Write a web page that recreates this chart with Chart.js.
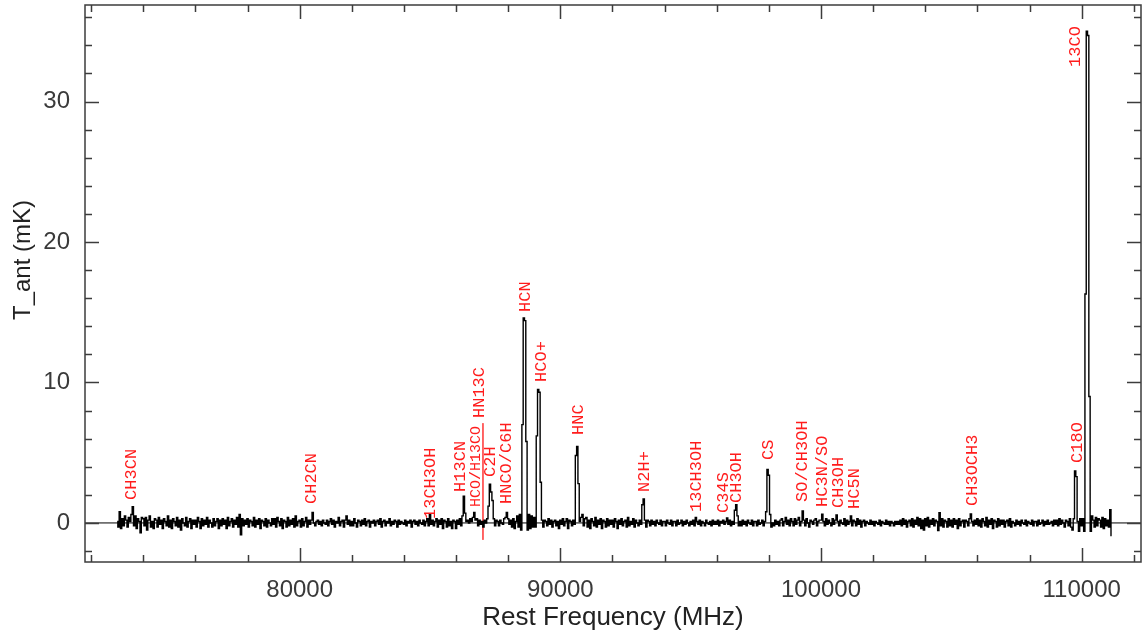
<!DOCTYPE html>
<html>
<head>
<meta charset="utf-8">
<script src="https://cdn.jsdelivr.net/npm/chart.js@4.4.1/dist/chart.umd.min.js"></script>
<style>
  html, body { margin: 0; padding: 0; background: #fff; }
  canvas { display: block; }
</style>
</head>
<body>
<canvas id="spectrum" width="1142" height="637"></canvas>
<script>
// --- DATI ---
// canali ogni 50 MHz, una riga = 1000 MHz (20 canali), prima riga a 73000 MHz
const firstRowFreq = 73000;
const rowWidth = 1000;
const chanWidth = 50;

const spectrumRows = [
  [0.1, -0.3, 0.8, -0.4, 0.3, -0.2, 0.5, 0.2, -0.3, 0.4,   0.1, 0.6, 1.15, -0.2, 0.5, -0.4, 0.3, 0.1, -0.7, 0.4],   // 73000
  [0.3, -0.2, 0.4, -0.5, 0.2, 0.5, -0.3, 0.1, -0.4, 0.3,   0.2, -0.3, 0.4, -0.1, 0.2, -0.4, 0.3, 0.1, -0.2, 0.5],   // 74000
  [-0.3, 0.2, -0.4, 0.3, 0.1, -0.2, 0.4, -0.3, 0.2, -0.5,  0.3, 0.0, -0.2, 0.4, -0.3, 0.1, 0.3, -0.4, 0.2, -0.1],   // 75000
  [0.2, -0.3, 0.4, 0.1, -0.4, 0.3, -0.2, 0.2, -0.1, 0.4,   -0.3, 0.2, 0.0, -0.3, 0.3, -0.2, 0.1, 0.3, -0.4, 0.2],   // 76000
  [-0.2, 0.3, -0.1, 0.2, -0.4, 0.4, -0.2, 0.1, 0.3, -0.3,  0.2, -0.1, 0.4, -0.3, 0.6, -0.85, 0.3, -0.2, 0.2, -0.1], // 77000
  [0.3, -0.3, 0.2, 0.1, -0.2, 0.4, -0.3, 0.2, -0.1, 0.3,   -0.4, 0.2, 0.1, -0.2, 0.3, -0.3, 0.2, 0.0, -0.2, 0.3],   // 78000
  [-0.1, 0.3, -0.3, 0.4, 0.1, -0.2, 0.3, -0.4, 0.2, 0.1,   -0.3, 0.4, -0.2, 0.2, -0.1, 0.3, -0.3, 0.5, -0.2, 0.1],   // 79000
  [0.2, -0.3, 0.3, -0.2, 0.1, 0.4, -0.3, 0.2, -0.1, 0.2,   0.75, 0.0, -0.2, 0.1, 0.2, -0.1, 0.1, -0.2, 0.2, 0.0],   // 80000
  [-0.1, 0.2, -0.2, 0.1, 0.3, -0.1, 0.2, -0.3, 0.1, 0.0,   0.4, -0.2, 0.1, 0.2, -0.3, 0.2, 0.5, -0.1, 0.2, -0.2],   // 81000
  [0.1, -0.2, 0.3, 0.0, -0.3, 0.2, 0.1, -0.2, 0.2, -0.1,   0.3, -0.2, 0.1, 0.2, -0.3, 0.1, 0.0, 0.2, -0.2, 0.1],    // 82000
  [0.2, -0.1, 0.3, -0.3, 0.1, 0.2, -0.2, 0.1, 0.0, 0.3,    -0.2, 0.1, -0.1, 0.2, 0.1, -0.3, 0.2, -0.1, 0.1, 0.0],   // 83000
  [-0.1, 0.2, -0.2, 0.1, 0.0, 0.2, -0.3, 0.1, 0.2, -0.1,   0.1, -0.2, 0.2, 0.0, -0.1, 0.2, -0.2, 0.1, 0.3, -0.2],   // 84000
  [0.65, -0.1, 0.2, -0.2, 0.1, 0.3, -0.3, 0.2, -0.1, 0.3,  -0.4, 0.2, 0.1, -0.3, 0.3, -0.2, 0.1, -0.4, 0.2, 0.1],   // 85000
  [-0.4, 0.2, -0.1, 0.3, -0.2, 0.5, 1.9, 0.7, 0.1, 0.2,    0.0, 0.3, 0.1, 0.4, 0.75, 0.2, 0.3, -0.2, 0.2, -0.1],    // 86000
  [0.1, -0.3, 0.2, 0.0, 0.3, 1.2, 2.75, 2.2, 1.6, 0.3,     -0.2, 0.2, 0.1, -0.2, 0.2, 0.0, -0.1, 0.3, 0.4, 0.75],   // 87000
  [0.3, -0.1, 0.2, -0.3, 0.3, -0.4, 0.1, 0.5, -0.3, 0.6,   -0.5, 7.0, 14.6, 14.4, 5.8, -0.5, 0.6, -0.4, 0.5, -0.3], // 88000
  [0.4, -0.3, 6.2, 9.5, 9.3, 2.9, 0.2, -0.3, 0.2, 0.1,     -0.2, 0.3, -0.1, 0.2, -0.3, 0.1, 0.2, -0.2, 0.1, -0.4],  // 89000
  [0.2, -0.1, 0.3, -0.2, 0.1, 0.3, -0.4, 0.2, 0.1, -0.2,   0.2, -0.1, 4.8, 5.45, 2.8, 0.1, 0.4, 0.6, -0.2, 0.3],    // 90000
  [0.4, -0.3, 0.2, -0.4, 0.3, 0.1, -0.2, 0.4, -0.3, 0.2,   -0.1, 0.3, -0.4, 0.2, 0.1, -0.3, 0.3, -0.2, 0.2, -0.1],  // 91000
  [0.2, -0.3, 0.3, 0.1, -0.4, 0.2, -0.1, 0.3, -0.2, 0.1,   0.2, -0.3, 0.4, -0.2, 0.1, -0.1, 0.3, -0.3, 0.2, 0.0],   // 92000
  [-0.2, 0.2, -0.1, 1.3, 1.7, 0.2, -0.3, 0.2, 0.1, -0.2,   0.2, -0.1, 0.1, -0.2, 0.2, 0.0, -0.1, 0.2, -0.2, 0.1],   // 93000
  [0.1, -0.2, 0.2, 0.0, -0.1, 0.2, -0.2, 0.1, 0.1, -0.2,   0.2, -0.1, 0.0, 0.2, -0.2, 0.1, -0.1, 0.2, 0.0, -0.2],   // 94000
  [0.1, -0.1, 0.2, -0.2, 0.4, 0.1, -0.1, 0.2, -0.2, 0.1,   0.0, -0.2, 0.2, 0.0, -0.1, 0.1, -0.2, 0.2, -0.1, 0.1],   // 95000
  [-0.1, 0.2, -0.2, 0.1, 0.0, 0.2, -0.1, 0.1, 0.35, -0.1,  0.2, -0.2, 0.1, -0.1, 0.9, 1.3, 0.5, -0.2, 0.1, -0.2],   // 96000
  [0.2, -0.1, 0.1, -0.2, 0.2, 0.0, -0.1, 0.2, -0.2, 0.1,   0.1, -0.2, 0.2, -0.1, 0.0, 0.2, -0.2, 0.1, 0.8, 3.8],    // 97000
  [3.4, 0.6, -0.3, 0.0, -0.2, 0.2, -0.1, 0.1, -0.2, 0.2,   0.3, -0.2, 0.1, 0.4, -0.1, 0.2, -0.2, 0.3, 0.1, -0.2],   // 98000
  [0.3, -0.1, 0.2, 0.4, -0.2, 0.1, 0.85, 0.2, -0.2, 0.3,   0.0, -0.3, 0.2, 0.1, -0.1, 0.2, 0.3, -0.2, 0.1, 0.2],    // 99000
  [0.2, 0.62, 0.1, -0.2, 0.3, -0.1, 0.2, 0.0, -0.2, 0.3,   -0.1, 0.2, 0.57, 0.1, -0.2, 0.2, 0.0, -0.1, 0.3, -0.2],  // 100000
  [0.2, -0.1, 0.1, 0.5, -0.2, 0.2, 0.1, -0.2, 0.3, -0.1,   0.2, -0.3, 0.1, 0.2, -0.2, 0.1, 0.0, -0.1, 0.2, -0.1],   // 101000
  [0.1, -0.2, 0.1, 0.0, -0.1, 0.2, -0.2, 0.1, 0.0, -0.1,   0.2, -0.1, 0.1, -0.2, 0.1, 0.0, -0.2, 0.1, -0.1, 0.1],   // 102000
  [-0.1, 0.2, -0.2, 0.3, -0.1, 0.2, -0.3, 0.1, 0.2, -0.2,  0.3, -0.3, 0.2, -0.1, 0.4, -0.2, 0.3, -0.4, 0.2, -0.5],  // 103000
  [0.3, -0.2, 0.4, -0.3, 0.2, -0.1, 0.3, -0.2, 0.2, 0.1,   -0.55, 0.73, -0.2, 0.3, -0.3, 0.2, 0.1, -0.3, 0.3, -0.2], // 104000
  [0.2, -0.3, 0.3, -0.1, 0.2, -0.4, 0.3, -0.2, 0.1, 0.2,   -0.3, 0.2, 0.1, -0.2, 0.3, 0.64, 0.1, -0.2, 0.2, -0.1],  // 105000
  [0.3, -0.2, 0.2, -0.3, 0.3, 0.1, -0.2, 0.4, -0.3, 0.2,   -0.1, 0.3, -0.4, 0.2, 0.1, -0.3, 0.3, -0.2, 0.2, -0.1],  // 106000
  [0.2, -0.3, 0.1, 0.2, -0.2, 0.3, -0.3, 0.1, 0.0, -0.2,   0.2, -0.1, 0.1, -0.2, 0.2, 0.0, -0.1, 0.2, -0.2, 0.1],   // 107000
  [0.0, -0.1, 0.2, -0.2, 0.1, 0.1, -0.2, 0.2, -0.1, 0.0,   0.2, -0.2, 0.1, -0.1, 0.2, -0.1, 0.0, 0.1, -0.2, 0.2],   // 108000
  [-0.1, 0.2, -0.2, 0.3, -0.1, 0.2, 0.0, -0.3, 0.2, 0.1,   -0.2, 0.3, -0.3, -0.5, 0.3, 3.7, 3.3, 0.1, -0.6, 0.3],   // 109000
  [-0.2, 0.3, -0.6, 16.3, 35.0, 34.7, 9.0, -0.6, 0.5, 0.2, -0.3, 0.4, -0.2, 0.3, 0.2, -0.3, 0.4, -0.4, 0.3, -0.2],  // 110000
  [0.2, -0.3, 0.95, -0.9]                                                                                            // 111000
];

// righe molecolari: nome, frequenza (MHz), T_ant alla base dell'etichetta (mK)
const lineNames  = ['CH3CN', 'CH2CN', '13CH3OH', 'H13CN', 'HCO/H13CO', 'HN13C', 'C2H', 'HNCO/C6H',
                    'HCN', 'HCO+', 'HNC', 'N2H+', '13CH3OH', 'C34S', 'CH3OH', 'CS',
                    'SO/CH3OH', 'HC3N/SO', 'CH3OH', 'HC5N', 'CH3OCH3', 'C18O', '13CO'];
const lineFreqs  = [73549, 80473, 85019, 86189, 86765, 86918, 87302, 87916,
                    88645, 89259, 90678, 93210, 95205, 96241, 96740, 97967,
                    99272, 100039, 100653, 101267, 105793, 109822, 109745];
const lineLabelT = [1.64, 1.35, 0.28, 2.21, 1.14, 7.47, 3.27, 1.35,
                    15.02, 10.04, 6.26, 2.21, 0.78, 0.71, 1.42, 4.48,
                    1.49, 1.14, 1.07, 1.0, 1.21, 4.27, 32.46];
const smallLabels = ['HCO/H13CO'];

// marcatore rosso sotto HN13C
const markerFreq = 87032;
const markerT = [7.1, -1.2];

const xTickValues = [80000, 90000, 100000, 110000];
const yTickValues = [0, 10, 20, 30];
const xMin = 71765, xMax = 112276;
const yMin = -2.78, yMax = 36.87;

// --- COSTRUZIONE PUNTI ---
let spectrumPoints = [];
spectrumRows.forEach((row, r) => {
    row.forEach((t, i) => {
        spectrumPoints.push({ x: firstRowFreq + r * rowWidth + i * chanWidth, y: t });
    });
});

// --- PLUGIN: cornice con tacche interne, etichette rosse, titolo Y ---
const frameTicks = {
    id: 'frameTicks',
    afterDatasetsDraw(chart) {
        const { ctx, chartArea: a, scales: { x, y } } = chart;
        ctx.save();
        ctx.strokeStyle = '#3c3c3c';
        ctx.lineWidth = 1.5;
        ctx.strokeRect(a.left, a.top, a.right - a.left, a.bottom - a.top);
        ctx.beginPath();
        for (let v = 72000; v <= xMax; v += 2000) {
            const px = Math.round(x.getPixelForValue(v)) + 0.5;
            const len = xTickValues.includes(v) ? 14 : 7;
            ctx.moveTo(px, a.bottom); ctx.lineTo(px, a.bottom - len);
            ctx.moveTo(px, a.top); ctx.lineTo(px, a.top + len);
        }
        for (let v = -2; v <= yMax; v += 2) {
            const py = Math.round(y.getPixelForValue(v)) + 0.5;
            const len = yTickValues.includes(v) ? 14 : 7;
            ctx.moveTo(a.left, py); ctx.lineTo(a.left + len, py);
            ctx.moveTo(a.right, py); ctx.lineTo(a.right - len, py);
        }
        ctx.stroke();
        ctx.restore();
    }
};

const lineLabels = {
    id: 'lineLabels',
    afterDatasetsDraw(chart) {
        const { ctx, scales: { x, y } } = chart;
        ctx.save();
        ctx.fillStyle = '#ff1c1c';
        ctx.textAlign = 'left';
        ctx.textBaseline = 'middle';
        lineNames.forEach((name, i) => {
            const px = x.getPixelForValue(lineFreqs[i]);
            const py = y.getPixelForValue(lineLabelT[i]);
            ctx.font = (smallLabels.includes(name) ? 15 : 17) + 'px "Liberation Mono", monospace';
            ctx.save();
            ctx.translate(px, py);
            ctx.rotate(-Math.PI / 2);
            ctx.fillText(name, 0, 0);
            ctx.restore();
        });
        ctx.restore();
    }
};

const yTitle = {
    id: 'yTitle',
    afterDraw(chart) {
        const { ctx } = chart;
        ctx.save();
        ctx.fillStyle = '#222';
        ctx.font = '24px "Liberation Sans", Arial, sans-serif';
        ctx.textAlign = 'center';
        ctx.textBaseline = 'middle';
        ctx.translate(23, 260);
        ctx.rotate(-Math.PI / 2);
        ctx.fillText('T_ant (mK)', 0, 0);
        ctx.restore();
    }
};

// --- GRAFICO ---
const ctx = document.getElementById('spectrum').getContext('2d');
new Chart(ctx, {
    type: 'line',
    data: {
        datasets: [
            {
                data: [{ x: xMin, y: 0 }, { x: xMax, y: 0 }],
                borderColor: '#000', borderWidth: 1, pointRadius: 0
            },
            {
                data: spectrumPoints,
                borderColor: '#000', borderWidth: 1.4, pointRadius: 0,
                stepped: 'middle'
            },
            {
                data: [{ x: markerFreq, y: markerT[0] }, { x: markerFreq, y: markerT[1] }],
                borderColor: '#ff5050', borderWidth: 1, pointRadius: 0
            }
        ]
    },
    options: {
        responsive: false,
        animation: false,
        devicePixelRatio: 1,
        layout: { padding: { top: 5, right: 1, left: 0, bottom: 0 } },
        plugins: { legend: { display: false }, tooltip: { enabled: false } },
        scales: {
            x: {
                type: 'linear', min: xMin, max: xMax,
                grid: { display: false, drawTicks: false },
                border: { display: false },
                afterBuildTicks: s => { s.ticks = xTickValues.map(v => ({ value: v })); },
                afterFit: s => { s.height = 75; s.paddingLeft = 0; s.paddingRight = 0; },
                ticks: {
                    callback: v => String(v),
                    font: { family: 'Liberation Sans', size: 24 },
                    color: '#3a3a3a', padding: 14, maxRotation: 0, autoSkip: false
                },
                title: {
                    display: true, text: 'Rest Frequency (MHz)',
                    font: { family: 'Liberation Sans', size: 26 },
                    color: '#222', padding: { top: 0, bottom: 4 }
                }
            },
            y: {
                type: 'linear', min: yMin, max: yMax,
                grid: { display: false, drawTicks: false },
                border: { display: false },
                afterBuildTicks: s => { s.ticks = yTickValues.map(v => ({ value: v })); },
                afterFit: s => { s.width = 85; s.paddingTop = 0; s.paddingBottom = 0; },
                ticks: {
                    callback: v => String(v),
                    font: { family: 'Liberation Sans', size: 24 },
                    color: '#3a3a3a', padding: 15
                }
            }
        }
    },
    plugins: [frameTicks, lineLabels, yTitle]
});
</script>
</body>
</html>
